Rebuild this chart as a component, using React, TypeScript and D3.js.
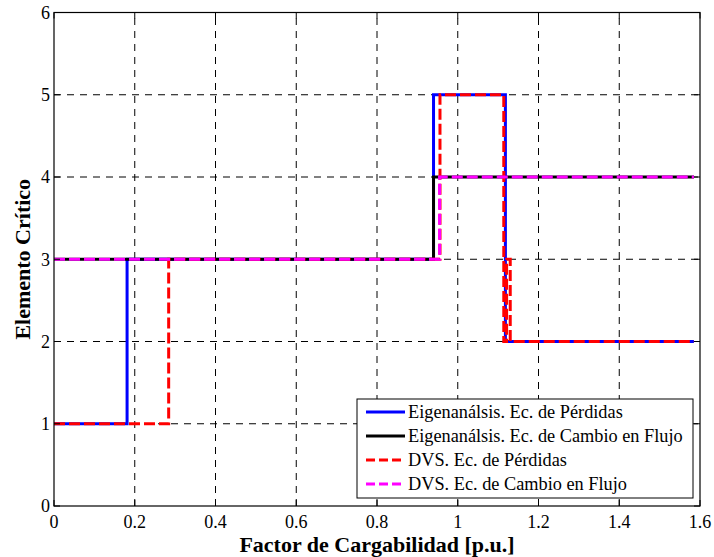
import React from 'react';
import * as d3 from 'd3';

// step data: value holds from x[i] until x[i+1]
const blueX = [0, 0.181, 0.94, 1.118, 1.585];
const blueY = [1, 3, 5, 2, 2];
const blackX = [0, 0.94, 1.585];
const blackY = [3, 4, 4];
const redX = [0, 0.284, 0.956, 1.114, 1.121, 1.13, 1.585];
const redY = [1, 3, 5, 2, 3, 2, 2];
const magentaX = [0, 0.955, 1.585];
const magentaY = [3, 4, 4];

const xTicks = [0, 0.2, 0.4, 0.6, 0.8, 1, 1.2, 1.4, 1.6];
const yTicks = [0, 1, 2, 3, 4, 5, 6];
const legendLabels = [
  'Eigenanálsis. Ec. de Pérdidas',
  'Eigenanálsis. Ec. de Cambio en Flujo',
  'DVS. Ec. de Pérdidas',
  'DVS. Ec. de Cambio en Flujo',
];

const W = 714,
  H = 557;
const margin = { left: 54, right: 700, top: 12.5, bottom: 506 };
const font = '"Liberation Serif", "Times New Roman", serif';

const series = [
  { xs: blueX, ys: blueY, color: '#0000ff', dash: null },
  { xs: blackX, ys: blackY, color: '#000000', dash: null },
  { xs: redX, ys: redY, color: '#ff0000', dash: '11,4' },
  { xs: magentaX, ys: magentaY, color: '#ff00ff', dash: '11,4' },
];

export default function App() {
  const x = d3.scaleLinear().domain([0, 1.6]).range([margin.left, margin.right]);
  const y = d3.scaleLinear().domain([0, 6]).range([margin.bottom, margin.top]);

  const line = d3
    .line<[number, number]>()
    .x((d) => x(d[0]))
    .y((d) => y(d[1]))
    .curve(d3.curveStepAfter);

  const tickLen = 6;

  return (
    <svg
      width={W}
      height={H}
      style={{ position: 'absolute', left: 0, top: 0, background: '#fff' }}
      fontFamily={font}
    >
      {/* GRID */}
      <g stroke="#000" strokeWidth={1} strokeDasharray="7,6">
        {xTicks.slice(1, -1).map((t) => (
          <line key={'gx' + t} x1={x(t)} x2={x(t)} y1={margin.bottom} y2={margin.top} />
        ))}
        {yTicks.slice(1, -1).map((t) => (
          <line key={'gy' + t} x1={margin.left} x2={margin.right} y1={y(t)} y2={y(t)} />
        ))}
      </g>

      {/* SERIES */}
      {series.map((s, i) => (
        <path
          key={i}
          d={line(s.xs.map((v, j) => [v, s.ys[j]] as [number, number])) || ''}
          fill="none"
          stroke={s.color}
          strokeWidth={3}
          strokeDasharray={s.dash || undefined}
        />
      ))}

      {/* AXES BOX + TICKS */}
      <rect
        x={margin.left}
        y={margin.top}
        width={margin.right - margin.left}
        height={margin.bottom - margin.top}
        fill="none"
        stroke="#000"
        strokeWidth={1.2}
      />
      <g stroke="#000" strokeWidth={1}>
        {xTicks.map((t) => (
          <g key={'tx' + t}>
            <line x1={x(t)} x2={x(t)} y1={margin.bottom} y2={margin.bottom - tickLen} />
            <line x1={x(t)} x2={x(t)} y1={margin.top} y2={margin.top + tickLen} />
          </g>
        ))}
        {yTicks.map((t) => (
          <g key={'ty' + t}>
            <line x1={margin.left} x2={margin.left + tickLen} y1={y(t)} y2={y(t)} />
            <line x1={margin.right} x2={margin.right - tickLen} y1={y(t)} y2={y(t)} />
          </g>
        ))}
      </g>
      <g fontSize={18} fill="#000">
        {xTicks.map((t) => (
          <text key={'lx' + t} x={x(t)} y={528} textAnchor="middle">
            {d3.format('~g')(t)}
          </text>
        ))}
        {yTicks.map((t) => (
          <text key={'ly' + t} x={margin.left - 4} y={y(t)} dy="0.35em" textAnchor="end">
            {t}
          </text>
        ))}
      </g>

      {/* AXIS TITLES */}
      <text x={377} y={552} textAnchor="middle" fontSize={22} fontWeight="bold">
        Factor de Cargabilidad [p.u.]
      </text>
      <text
        transform={`translate(30,${(margin.top + margin.bottom) / 2}) rotate(-90)`}
        textAnchor="middle"
        fontSize={22}
        fontWeight="bold"
      >
        Elemento Crítico
      </text>

      {/* LEGEND */}
      <rect x={357} y={399} width={336} height={99} fill="#fff" stroke="#000" strokeWidth={1} />
      {legendLabels.map((lab, i) => {
        const ly = 412 + i * 24;
        const s = series[i];
        return (
          <g key={lab}>
            <line
              x1={366}
              x2={405}
              y1={ly}
              y2={ly}
              stroke={s.color}
              strokeWidth={3}
              strokeDasharray={s.dash ? '9,4' : undefined}
            />
            <text x={408} y={ly} dy="0.35em" fontSize={18.3}>
              {lab}
            </text>
          </g>
        );
      })}
    </svg>
  );
}
